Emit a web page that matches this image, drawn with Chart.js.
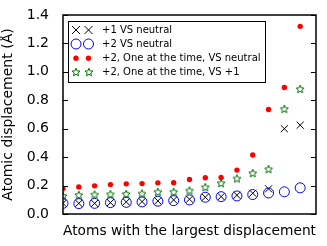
<!DOCTYPE html>
<html>
<head>
<meta charset="utf-8">
<script src="https://cdn.jsdelivr.net/npm/chart.js@4"></script>
<style>
  html, body { margin: 0; padding: 0; background: #fff; }
  #wrap { width: 327px; height: 246px; }
</style>
</head>
<body>
<div id="wrap"><canvas id="chart" width="327" height="246"></canvas></div>
<script>
// values, atoms 0..15
const atoms = [0, 1, 2, 3, 4, 5, 6, 7, 8, 9, 10, 11, 12, 13, 14, 15];
const plus1VsNeutral = [0.075, 0.075, 0.075, 0.08, 0.085, 0.087, 0.092, 0.099, 0.104, 0.118, 0.122, 0.132, 0.146, 0.177, 0.60, 0.625];
const plus2VsNeutral = [0.075, 0.073, 0.075, 0.08, 0.082, 0.085, 0.09, 0.094, 0.099, 0.118, 0.122, 0.127, 0.137, 0.148, 0.156, 0.184];
const oneAtTimeVsNeutral = [0.18, 0.19, 0.198, 0.207, 0.212, 0.214, 0.219, 0.22, 0.243, 0.255, 0.257, 0.309, 0.415, 0.735, 0.89, 1.32];
const oneAtTimeVsPlus1 = [0.127, 0.134, 0.137, 0.139, 0.141, 0.144, 0.156, 0.156, 0.165, 0.189, 0.217, 0.25, 0.288, 0.316, 0.74, 0.88];
const yTicks = [0, 0.2, 0.4, 0.6, 0.8, 1.0, 1.2, 1.4];
const seriesNames = ['+1 VS neutral', '+2 VS neutral', '+2, One at the time, VS neutral', '+2, One at the time, VS +1'];

const FONT = 'DejaVu Sans';

function toPoints(ys) {
    return atoms.map((x, i) => ({ x: x, y: ys[i] }));
}

// hollow 5-point star marker, like matplotlib '*' with no fill
function starMarker(r, color) {
    const c = document.createElement('canvas');
    const s = Math.ceil(r * 2 + 3);
    c.width = s; c.height = s;
    const g = c.getContext('2d');
    const cx = s / 2, cy = s / 2 + 0.4;
    g.beginPath();
    for (let k = 0; k < 10; k++) {
        const rad = k % 2 === 0 ? r : r * 0.45;
        const a = -Math.PI / 2 + k * Math.PI / 5;
        const px = cx + rad * Math.cos(a), py = cy + rad * Math.sin(a);
        if (k === 0) g.moveTo(px, py); else g.lineTo(px, py);
    }
    g.closePath();
    g.strokeStyle = color;
    g.lineWidth = 1;
    g.stroke();
    return c;
}
const star = starMarker(4.2, '#007000');

const styles = [
    { pointStyle: 'crossRot', radius: 5, borderColor: '#000', backgroundColor: '#000', borderWidth: 1 },
    { pointStyle: 'circle', radius: 5, borderColor: '#0000ff', backgroundColor: 'rgba(0,0,0,0)', borderWidth: 1 },
    { pointStyle: 'circle', radius: 2.7, borderColor: '#ff0000', backgroundColor: '#ff0000', borderWidth: 0 },
    { pointStyle: star, radius: 4.2, borderColor: '#008000', backgroundColor: '#008000', borderWidth: 1 }
];

const seriesData = [plus1VsNeutral, plus2VsNeutral, oneAtTimeVsNeutral, oneAtTimeVsPlus1];

const datasets = seriesData.map((ys, i) => ({
    label: seriesNames[i],
    data: toPoints(ys),
    showLine: false,
    pointStyle: styles[i].pointStyle,
    pointRadius: styles[i].radius,
    pointBorderColor: styles[i].borderColor,
    pointBackgroundColor: styles[i].backgroundColor,
    pointBorderWidth: styles[i].borderWidth,
    borderColor: styles[i].borderColor,
    backgroundColor: styles[i].backgroundColor,
    clip: 0,
    order: 4 - i
}));

// draw one legend marker by hand
function legendMarker(ctx, i, mx, my) {
    const st = styles[i];
    ctx.save();
    if (i === 0) {
        const d = st.radius * 0.8;
        ctx.strokeStyle = st.borderColor;
        ctx.lineWidth = 1;
        ctx.beginPath();
        ctx.moveTo(mx - d, my - d); ctx.lineTo(mx + d, my + d);
        ctx.moveTo(mx - d, my + d); ctx.lineTo(mx + d, my - d);
        ctx.stroke();
    } else if (i === 1) {
        ctx.strokeStyle = st.borderColor;
        ctx.lineWidth = 1;
        ctx.beginPath();
        ctx.arc(mx, my, st.radius, 0, Math.PI * 2);
        ctx.stroke();
    } else if (i === 2) {
        ctx.fillStyle = st.backgroundColor;
        ctx.beginPath();
        ctx.arc(mx, my, st.radius, 0, Math.PI * 2);
        ctx.fill();
    } else {
        ctx.drawImage(star, Math.round(mx - star.width / 2), Math.round(my - star.height / 2));
    }
    ctx.restore();
}

// frame, inward ticks and the boxed legend
const frameAndLegend = {
    id: 'frameAndLegend',
    afterDatasetsDraw(chart) {
        const ctx = chart.ctx;
        const a = chart.chartArea;
        const y = chart.scales.y;
        ctx.save();
        ctx.strokeStyle = '#000';
        ctx.lineWidth = 1.5;
        ctx.strokeRect(a.left, a.top, a.right - a.left, a.bottom - a.top);

        ctx.lineWidth = 1;
        yTicks.forEach(v => {
            const py = Math.round(y.getPixelForValue(v)) + 0.5;
            ctx.beginPath();
            ctx.moveTo(a.left, py); ctx.lineTo(a.left + 5, py);
            ctx.moveTo(a.right, py); ctx.lineTo(a.right - 5, py);
            ctx.stroke();
        });

        // legend
        const lx = 68, ly = 21, lw = 197, lh = 61;
        ctx.fillStyle = '#fff';
        ctx.fillRect(lx, ly, lw, lh);
        ctx.lineWidth = 1;
        ctx.strokeStyle = '#000';
        ctx.strokeRect(lx + 0.5, ly + 0.5, lw, lh);

        const rows = [30, 44, 58.3, 72];
        ctx.font = '10px "' + FONT + '"';
        ctx.textBaseline = 'middle';
        rows.forEach((ry, i) => {
            legendMarker(ctx, i, 76, ry);
            legendMarker(ctx, i, 88.5, ry);
            ctx.fillStyle = '#000';
            ctx.fillText(seriesNames[i], 102, ry);
        });
        ctx.restore();
    }
};

new Chart(document.getElementById('chart'), {
    type: 'scatter',
    data: { datasets: datasets },
    options: {
        responsive: false,
        animation: false,
        events: [],
        layout: { padding: { left: 0, right: 11, top: 15, bottom: 0 } },
        plugins: {
            legend: { display: false },
            tooltip: { enabled: false }
        },
        scales: {
            x: {
                type: 'linear',
                min: 0,
                max: 16,
                grid: { display: false },
                border: { display: false },
                ticks: { display: false },
                title: {
                    display: true,
                    text: 'Atoms with the largest displacement',
                    color: '#000',
                    font: { family: FONT, size: 14 },
                    padding: { top: 4, bottom: 6 }
                },
                afterFit(s) { s.height = 32; }
            },
            y: {
                min: 0,
                max: 1.4,
                afterBuildTicks(s) { s.ticks = yTicks.map(v => ({ value: v })); },
                grid: { display: false },
                border: { display: false },
                ticks: {
                    color: '#000',
                    padding: 6,
                    font: { family: FONT, size: 14 },
                    callback: v => v.toFixed(1)
                },
                title: {
                    display: true,
                    text: 'Atomic displacement (Å)',
                    color: '#000',
                    font: { family: FONT, size: 14 },
                    padding: { top: 0, bottom: 2 }
                },
                afterFit(s) { s.width = 63; }
            }
        }
    },
    plugins: [frameAndLegend]
});
</script>
</body>
</html>
